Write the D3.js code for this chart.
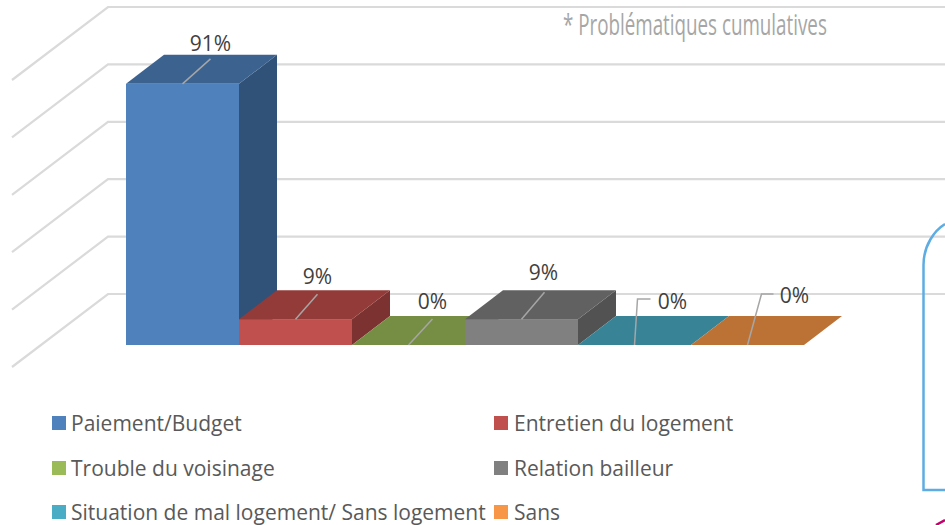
<!DOCTYPE html>
<html lang="fr">
<head>
<meta charset="utf-8">
<script src="https://cdn.jsdelivr.net/npm/d3@7"></script>
<style>
  html, body { margin: 0; background: #fff; }
  svg { display: block; }
  text { font-family: "Open Sans", sans-serif; }
</style>
</head>
<body>
<div id="chart"></div>
<script>
// Chart data
const categories = [
  "Paiement/Budget",
  "Entretien du logement",
  "Trouble du voisinage",
  "Relation bailleur",
  "Situation de mal logement/ Sans logement",
  "Sans",
];
const values = [0.91, 0.09, 0, 0.09, 0, 0];
const valueLabels = ["91%", "9%", "0%", "9%", "0%", "0%"];
const axisTicks = [0, 0.2, 0.4, 0.6, 0.8, 1];
const note = "* Problématiques cumulatives";

// Colours, one per category
const frontColors = ["#4f81bd", "#c0504d", "#9bbb59", "#808080", "#4bacc6", "#f79646"];
const topColors = ["#3c6290", "#933b39", "#768e43", "#616161", "#398397", "#bc7235"];
const sideColors = ["#315278", "#7b3230", "#637738", "#525252", "#306e7e", "#9d5f2c"];

const WIDTH = 945;
const HEIGHT = 525;
const DEPTH_X = 38;
const DEPTH_Y = 29;

const svg = d3
  .select("#chart")
  .append("svg")
  .attr("width", WIDTH)
  .attr("height", HEIGHT);

const x = d3.scaleBand().domain(categories).range([126, 804]);
const y = d3.scaleLinear().domain([0, 1]).range([345, 58]);

// Gridlines, drawn on the back wall and down the side wall
const grid = svg
  .append("g")
  .attr("fill", "none")
  .attr("stroke", "#dadada")
  .attr("stroke-width", 2.2);

axisTicks.forEach((t) => {
  grid
    .append("path")
    .attr(
      "d",
      d3.line()([
        [12, y(t) + 22],
        [108, y(t) - 51],
        [WIDTH, y(t) - 51],
      ])
    );
});

// Bars, left to right so that each one overlaps the back of the next
const bars = svg
  .append("g")
  .selectAll("g")
  .data(categories)
  .join("g");

const quad = (pts) => d3.line()(pts) + "Z";

bars.each(function (d, i) {
  const g = d3.select(this);
  const x0 = x(d);
  const x1 = x0 + x.bandwidth();
  const y0 = y(0);
  const yTop = y(values[i]);

  if (values[i] > 0) {
    g.append("path")
      .attr("fill", sideColors[i])
      .attr(
        "d",
        quad([
          [x1, y0],
          [x1 + DEPTH_X, y0 - DEPTH_Y],
          [x1 + DEPTH_X, yTop - DEPTH_Y],
          [x1, yTop],
        ])
      );
    g.append("rect")
      .attr("x", x0)
      .attr("y", yTop)
      .attr("width", x.bandwidth())
      .attr("height", y0 - yTop)
      .attr("fill", frontColors[i]);
  }

  g.append("path")
    .attr("fill", topColors[i])
    .attr(
      "d",
      quad([
        [x0, yTop],
        [x0 + DEPTH_X, yTop - DEPTH_Y],
        [x1 + DEPTH_X, yTop - DEPTH_Y],
        [x1, yTop],
      ])
    );
});

// Leader lines and value labels, offsets are from the bar's top front centre
const leaderOffsets = [
  [[28, -25]],
  [[22, -25]],
  [[24, -26]],
  [[23, -27]],
  [[3, -46], [16, -46]],
  [[14, -51], [26, -51]],
];
const labelOffsets = [
  [28, -41],
  [22, -43],
  [24, -44],
  [22, -47],
  [38, -44],
  [47, -50],
];

const labels = svg.append("g");

categories.forEach((d, i) => {
  const cx = x(d) + x.bandwidth() / 2;
  const cy = y(values[i]);
  labels
    .append("path")
    .attr("fill", "none")
    .attr("stroke", "#a6a6a6")
    .attr("stroke-width", 1.5)
    .attr(
      "d",
      d3.line()([[cx, cy], ...leaderOffsets[i].map(([dx, dy]) => [cx + dx, cy + dy])])
    );
  labels
    .append("text")
    .attr("x", cx + labelOffsets[i][0])
    .attr("y", cy + labelOffsets[i][1])
    .attr("text-anchor", "middle")
    .attr("dominant-baseline", "central")
    .attr("font-size", 21)
    .attr("fill", "#404040")
    .text(valueLabels[i]);
});

// Note top right, squeezed horizontally to get the condensed look
const noteText = svg
  .append("text")
  .attr("font-size", 29)
  .attr("fill", "#a6a6a6")
  .text(note);
const noteScale = 264 / noteText.node().getComputedTextLength();
noteText.attr("transform", `translate(563,35) scale(${noteScale},1)`);

// Legend
const legendX = [52, 494];
const legendY = [423, 468, 512];

const legend = svg
  .append("g")
  .selectAll("g")
  .data(categories)
  .join("g")
  .attr(
    "transform",
    (d, i) => `translate(${legendX[i % 2]},${legendY[Math.floor(i / 2)]})`
  );

legend
  .append("rect")
  .attr("y", -7)
  .attr("width", 14)
  .attr("height", 14)
  .attr("fill", (d, i) => frontColors[i]);

legend
  .append("text")
  .attr("x", (d, i) => (i % 2 ? 20 : 19))
  .attr("dominant-baseline", "central")
  .attr("font-size", 21)
  .attr("fill", "#595959")
  .text((d) => d);

// Cropped shapes at the right edge of the picture
svg
  .append("path")
  .attr("fill", "none")
  .attr("stroke", "#5dade2")
  .attr("stroke-width", 2.5)
  .attr("d", "M945,490H923.5V265C923.5,245 935,230 945,224");

svg
  .append("path")
  .attr("fill", "none")
  .attr("stroke", "#c2006e")
  .attr("stroke-width", 2.5)
  .attr("d", "M936,525L945,520");
</script>
</body>
</html>
